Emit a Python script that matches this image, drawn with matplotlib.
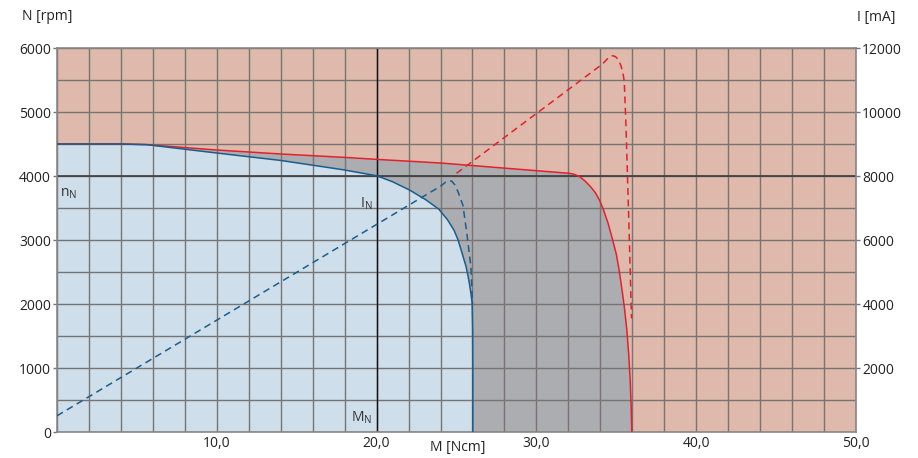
import matplotlib
matplotlib.use("Agg")
import matplotlib.pyplot as plt
import numpy as np

plt.rcParams['font.family'] = ['Open Sans', 'DejaVu Sans']

# Speed-torque curve, nominal (blue) [Ncm, rpm]
blue_M = [0, 4.0, 5.6, 10.0, 14.0, 17.9, 20.0, 21.0, 22.06, 23.1, 23.9, 24.45, 24.85,
          25.1, 25.29, 25.45, 25.6, 25.72, 25.82, 25.91, 25.98, 26.01, 26.02, 26.02]
blue_N = [4500, 4500, 4490, 4359, 4243, 4098, 4004, 3910, 3781, 3625, 3480, 3312, 3150,
          3000, 2844, 2710, 2583, 2440, 2300, 2150, 2010, 1600, 1000, 0]

# Speed-torque curve, short-term (red)
red_M = [0, 4.0, 5.6, 10.0, 14.0, 17.9, 20.0, 24.0, 28.0, 32.06, 32.35, 32.7, 33.05,
         33.4, 33.7, 33.94, 34.2, 34.5, 34.77, 35.0, 35.15, 35.3, 35.5, 35.66, 35.78,
         35.87, 35.93, 35.97]
red_N = [4500, 4500, 4490, 4406, 4344, 4292, 4260, 4203, 4123, 4042, 4028, 3990, 3920,
         3830, 3735, 3625, 3470, 3250, 3000, 2780, 2570, 2323, 1960, 1594, 1200,
         800, 400, 0]

# Current curves [Ncm, mA]
blue_I_M = [0, 24.0, 24.3, 24.5, 24.7, 24.9, 25.1, 25.4, 25.65, 25.9, 26.0]
blue_I = [506, 7682, 7800, 7855, 7840, 7720, 7500, 7088, 6200, 5167, 4000]
red_I_M = [25.0, 34.14, 34.4, 34.6, 34.77, 34.95, 35.12, 35.29, 35.42, 35.5, 35.6,
           35.7, 35.8, 35.9, 35.95]
red_I = [8083, 11500, 11640, 11730, 11760, 11730, 11640, 11450, 11200, 10950, 9646,
         8000, 6312, 4500, 3550]

x_ticks = [10, 20, 30, 40, 50]
x_labels = ["10,0", "20,0", "30,0", "40,0", "50,0"]
y_ticks = [0, 1000, 2000, 3000, 4000, 5000, 6000]
i_ticks = [2000, 4000, 6000, 8000, 10000, 12000]

M_nom = 20.0
N_nom = 4000

pink = '#dfb9ab'
lightblue = '#cedeea'
grey = '#acadb1'
blue = '#1b5d8c'
red = '#e5202b'
gridc = '#787474'
txt = '#222222'

fig = plt.figure(figsize=(9.18, 4.58), dpi=100)
ax = fig.add_axes([57/918, 26/458, 799/918, 384/458])
ax.set_xlim(0, 50)
ax.set_ylim(0, 6000)
ax.set_facecolor(pink)

ax.fill(list(red_M) + [0], list(red_N) + [0], color=grey, lw=0, zorder=1)
ax.fill(list(blue_M) + [0], list(blue_N) + [0], color=lightblue, lw=0, zorder=1.5)

ax.set_xticks(x_ticks)
ax.set_xticklabels(x_labels)
ax.set_yticks(y_ticks)
ax.set_xticks(np.arange(0, 51, 2), minor=True)
ax.set_yticks(np.arange(0, 6001, 500), minor=True)
ax.grid(which='both', color=gridc, lw=1.0, zorder=2)
ax.set_axisbelow(False)
ax.tick_params(which='minor', length=0)

ax.axhline(N_nom, color='#3c3c3c', lw=1.2, zorder=3)
ax.axvline(M_nom, color='#111111', lw=1.0, zorder=3)

ax.plot(red_M, red_N, color=red, lw=1.1, zorder=5)
ax.plot(blue_M, blue_N, color=blue, lw=1.1, zorder=5)

ax.tick_params(axis='x', which='major', length=0, pad=3, labelsize=10, colors=txt)
ax.tick_params(axis='y', which='major', length=3, width=1, pad=1.5, labelsize=10, colors=txt)
ax.tick_params(axis='y', which='major', color=gridc)
for s in ax.spines.values():
    s.set_color('#8a8686')
    s.set_linewidth(1.2)
    s.set_zorder(4)

ax2 = ax.twinx()
ax2.set_ylim(0, 12000)
ax2.set_yticks(i_ticks)
ax2.tick_params(axis='y', length=3, width=1, pad=1.5, labelsize=10, colors=txt)
ax2.tick_params(axis='y', color=gridc)
for s in ax2.spines.values():
    s.set_visible(False)
ax2.plot(blue_I_M, blue_I, color=blue, lw=1.1, ls=(0, (4.5, 3)), zorder=5)
ax2.plot(red_I_M, red_I, color=red, lw=1.1, ls=(0, (4.5, 3)), zorder=5)

fig.text(22/918, 1 - 17/458, "N [rpm]", fontsize=10, va='center', ha='left', color=txt)
fig.text(857/918, 1 - 17/458, "I [mA]", fontsize=10, va='center', ha='left', color=txt)
fig.text(458/918, 1 - 448/458, "M [Ncm]", fontsize=10, va='center', ha='center', color=txt)

ax.text(0.2, 3730, r"n$_{\mathregular{N}}$", fontsize=10, color='#333333',
        va='center', ha='left', zorder=6)
ax.text(19.75, 3560, r"I$_{\mathregular{N}}$", fontsize=10, color='#333333',
        va='center', ha='right', zorder=6)
ax.text(19.75, 220, r"M$_{\mathregular{N}}$", fontsize=10, color='#333333',
        va='center', ha='right', zorder=6)

fig.savefig("out.png", dpi=100)
